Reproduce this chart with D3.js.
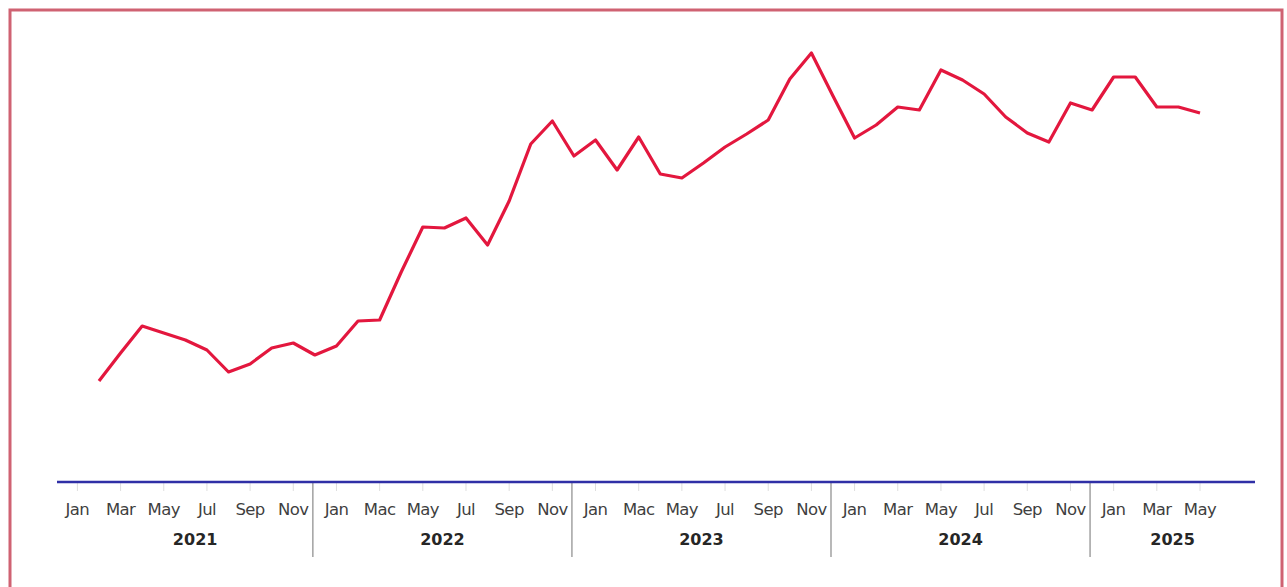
<!DOCTYPE html>
<html>
<head>
<meta charset="utf-8">
<script src="https://cdn.jsdelivr.net/npm/d3@7"></script>
<style>
  html, body { margin: 0; padding: 0; background: #fff; }
  svg { display: block; }
</style>
</head>
<body>
<svg id="chart" width="1287" height="587"></svg>
<script>
// ---- data ----
const axisMonths = ["2021-01","2021-02","2021-03","2021-04","2021-05","2021-06","2021-07","2021-08","2021-09","2021-10","2021-11","2021-12",
  "2022-01","2022-02","2022-03","2022-04","2022-05","2022-06","2022-07","2022-08","2022-09","2022-10","2022-11","2022-12",
  "2023-01","2023-02","2023-03","2023-04","2023-05","2023-06","2023-07","2023-08","2023-09","2023-10","2023-11","2023-12",
  "2024-01","2024-02","2024-03","2024-04","2024-05","2024-06","2024-07","2024-08","2024-09","2024-10","2024-11","2024-12",
  "2025-01","2025-02","2025-03","2025-04","2025-05"];

const dataMonths = axisMonths.slice(1); // Feb 2021 .. May 2025

const values = [14.75, 21.75, 28.5, 26.75, 25, 22.5, 17, 19, 23, 24.25, 21.25,
  23.5, 29.75, 30, 42, 53.25, 53, 55.5, 48.75, 59.75, 74, 79.75, 71,
  75, 67.5, 75.75, 66.5, 65.5, 69.25, 73.25, 76.5, 80, 90.25, 96.75, 86,
  75.5, 78.75, 83.25, 82.5, 92.5, 90, 86.5, 80.75, 76.75, 74.5, 84.25, 82.5,
  90.75, 90.75, 83.25, 83.25, 81.75];

const years = ["2021","2022","2023","2024","2025"];
const tickMonths = ["01","03","05","07","09","11"];
const tickLabels2021 = ["Jan","Mar","May","Jul","Sep","Nov"];
const tickLabels2022 = ["Jan","Mac","May","Jul","Sep","Nov"];
const tickLabels2023 = ["Jan","Mac","May","Jul","Sep","Nov"];
const tickLabels2024 = ["Jan","Mar","May","Jul","Sep","Nov"];
const tickLabels2025 = ["Jan","Mar","May"];
const tickLabelsByYear = [tickLabels2021, tickLabels2022, tickLabels2023, tickLabels2024, tickLabels2025];

// ---- layout ----
const svg = d3.select("#chart");
const axisY = 482;
const axisLeft = 57, axisRight = 1255;

const x = d3.scalePoint().domain(axisMonths).range([77.4, 1200]);
const y = d3.scaleLinear().domain([0, 100]).range([440, 40]);

// frame
svg.append("rect")
  .attr("x", 10).attr("y", 10)
  .attr("width", 1272).attr("height", 595)
  .attr("fill", "none")
  .attr("stroke", "#cf6272")
  .attr("stroke-width", 3);

// ticks
const ticks = [];
years.forEach((yr, yi) => {
  tickLabelsByYear[yi].forEach((lab, li) => {
    ticks.push({ key: yr + "-" + tickMonths[li], label: lab });
  });
});

svg.append("g").selectAll("line.tick").data(ticks).join("line")
  .attr("class", "tick")
  .attr("x1", d => x(d.key)).attr("x2", d => x(d.key))
  .attr("y1", axisY).attr("y2", axisY + 9)
  .attr("stroke", "#dedede").attr("stroke-width", 1);

svg.append("g").selectAll("text.mlab").data(ticks).join("text")
  .attr("class", "mlab")
  .attr("x", d => x(d.key))
  .attr("y", 515)
  .attr("text-anchor", "middle")
  .attr("font-family", "DejaVu Sans, sans-serif")
  .attr("font-size", 16.5)
  .attr("letter-spacing", -0.6)
  .attr("fill", "#3f3f3f")
  .text(d => d.label);

// year separators (at December position)
const sepKeys = years.slice(0, -1).map(yr => yr + "-12");
const sepX = sepKeys.map(k => x(k) - 2);
svg.append("g").selectAll("line.sep").data(sepX).join("line")
  .attr("class", "sep")
  .attr("x1", d => d).attr("x2", d => d)
  .attr("y1", axisY).attr("y2", 557)
  .attr("stroke", "#8a8a8a").attr("stroke-width", 1.2);

// year labels
const bounds = [x("2021-01")].concat(sepX).concat([axisRight]);
svg.append("g").selectAll("text.ylab").data(years).join("text")
  .attr("class", "ylab")
  .attr("x", (d, i) => (bounds[i] + bounds[i + 1]) / 2)
  .attr("y", 545)
  .attr("text-anchor", "middle")
  .attr("font-family", "DejaVu Sans, sans-serif")
  .attr("font-weight", "bold")
  .attr("font-size", 16)
  .attr("fill", "#262626")
  .text(d => d);

// axis line
svg.append("line")
  .attr("x1", axisLeft).attr("x2", axisRight)
  .attr("y1", axisY).attr("y2", axisY)
  .attr("stroke", "#2f2fa6").attr("stroke-width", 2.6);

// series line
const pts = dataMonths.map((m, i) => ({ m, v: values[i] }));
svg.append("path")
  .datum(pts)
  .attr("fill", "none")
  .attr("stroke", "#e3173e")
  .attr("stroke-width", 3.2)
  .attr("stroke-linejoin", "round")
  .attr("d", d3.line().x(d => x(d.m)).y(d => y(d.v)));
</script>
</body>
</html>
